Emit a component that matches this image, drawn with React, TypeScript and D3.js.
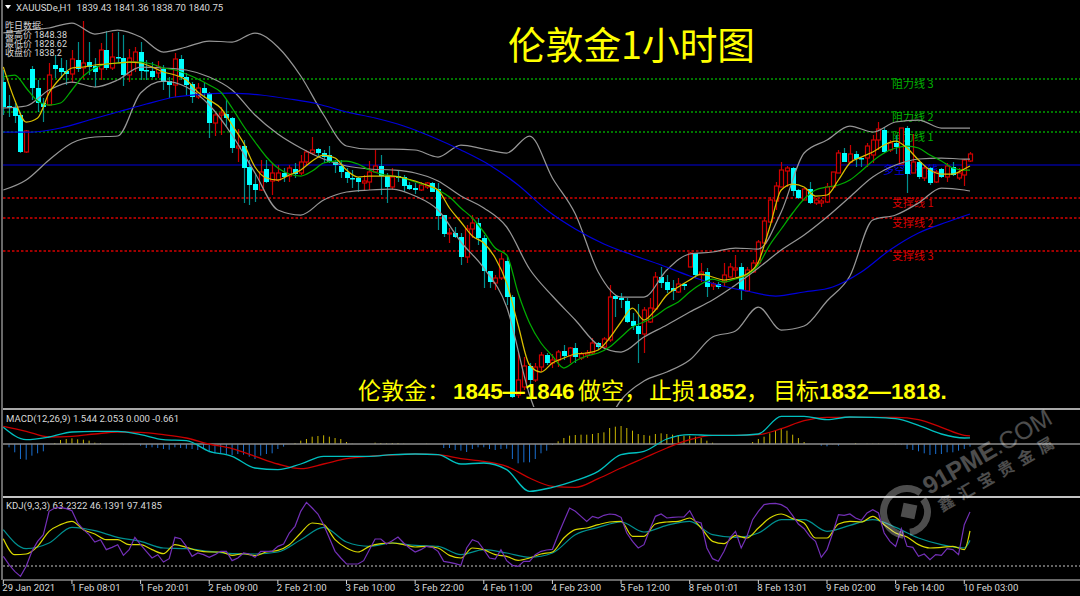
import * as d3 from 'd3'

// Hourly candles, one entry per bar
const opens = [
  1859.5, 1853.5, 1853, 1851.25, 1842, 1862.75, 1858, 1854.25, 1853.75, 1863.75,
  1863, 1862.25, 1861.5, 1865, 1863, 1864.5, 1863.5, 1862.75, 1867.5, 1863,
  1865.75, 1865.5, 1861.25, 1864.5, 1867, 1862.5, 1862.25, 1861.75, 1862.75, 1859.75,
  1858.75, 1865.25, 1860.75, 1859, 1855.75, 1858, 1856.75, 1849.25, 1851.25, 1851.5,
  1850.5, 1843, 1843.5, 1838.25, 1834, 1832.5, 1837.75, 1834.75, 1835, 1836.75,
  1836, 1837.75, 1836.75, 1839.5, 1841.75, 1842.75, 1841.75, 1841.25, 1839.5, 1838.5,
  1837, 1835.5, 1835.5, 1834.25, 1834.5, 1837, 1838.5, 1836, 1833.25, 1836,
  1835.75, 1833.75, 1833, 1832.5, 1833.25, 1834.25, 1832.75, 1826.25, 1821.5, 1821.75,
  1820.75, 1815.75, 1822.75, 1824.25, 1820.5, 1812.25, 1809.25, 1810.5, 1814.75, 1805.75,
  1781.25, 1783.25, 1788.5, 1785, 1788.25, 1791.25, 1789.25, 1790, 1792.25, 1791,
  1793, 1790.5, 1791.25, 1791.75, 1794.25, 1793.25, 1795, 1806, 1805.5, 1804.75,
  1799.75, 1798.5, 1796.5, 1799.5, 1802.75, 1810.75, 1809.5, 1808, 1807, 1809,
  1813.25, 1816.75, 1811.25, 1812, 1808.5, 1809, 1809.5, 1810.75, 1812.5, 1813.25,
  1807.25, 1812, 1814.25, 1819.25, 1824.5, 1829.75, 1833.25, 1837.25, 1838, 1832.5,
  1830, 1832.75, 1829.25, 1829.25, 1829.5, 1833.25, 1836.75, 1841.75, 1839.5, 1841.5,
  1840.5, 1840.5, 1841.25, 1845, 1847.5, 1842.5, 1844.25, 1839, 1848, 1836.75,
  1839.5, 1835.5, 1838, 1834.5, 1837.75, 1835.75, 1838.25, 1835.5, 1836.25, 1839.75,
]
const highs = [
  1862.5, 1856.25, 1854.25, 1852, 1847.5, 1863.5, 1860, 1855.5, 1864.25, 1866.25,
  1865.5, 1865, 1867.5, 1869.5, 1874.75, 1869.5, 1865.5, 1869.25, 1872.25, 1871.75,
  1872, 1871.25, 1867.75, 1868.25, 1869.5, 1865, 1864.5, 1864.75, 1863.75, 1860.75,
  1866.75, 1866.25, 1861.75, 1859.5, 1859.25, 1859.25, 1857, 1852, 1853.25, 1855,
  1850.75, 1847.75, 1845, 1840, 1836.75, 1840, 1840, 1839.25, 1838.75, 1838,
  1838.75, 1839.25, 1841.25, 1842.5, 1845.75, 1843, 1842.5, 1843.5, 1840, 1840,
  1838, 1837.5, 1835.75, 1836.25, 1839.75, 1842.5, 1841.25, 1836.75, 1838, 1837.5,
  1836.25, 1834.5, 1834.25, 1834.5, 1834.5, 1834.5, 1834.25, 1826.25, 1823, 1823.25,
  1821.75, 1823.75, 1826.25, 1825.5, 1821.25, 1812.25, 1811.25, 1816.75, 1815.75, 1806.25,
  1791.75, 1790.75, 1789.25, 1789.25, 1792, 1791.75, 1791.5, 1792.5, 1793.75, 1793.25,
  1794.25, 1792, 1792.5, 1795.5, 1794.5, 1795.75, 1808.75, 1806.25, 1806.75, 1805.5,
  1801.75, 1804, 1803.25, 1805.5, 1812, 1813.25, 1811.25, 1810, 1810.5, 1809.25,
  1817, 1816.75, 1814.25, 1813, 1809.5, 1809.5, 1814.25, 1814.25, 1816.25, 1814.25,
  1813.25, 1815, 1820, 1825.75, 1830.75, 1834.5, 1839.5, 1838.5, 1838.25, 1832.75,
  1833, 1834.5, 1830.5, 1830.25, 1834.25, 1837, 1842.5, 1843, 1843.75, 1842.25,
  1840.75, 1844.25, 1846.25, 1849.5, 1848, 1845, 1846.25, 1848, 1848.5, 1846.5,
  1840, 1838.5, 1838.25, 1837.5, 1838, 1839.25, 1839.5, 1838, 1840.25, 1842,
]
const lows = [
  1851.25, 1850.75, 1849.25, 1841.75, 1841.75, 1855, 1852, 1849.5, 1853.5, 1860.5,
  1860.5, 1858.75, 1859.25, 1862, 1860.25, 1861.25, 1858.25, 1860, 1862.5, 1862.5,
  1864.25, 1858.5, 1859.5, 1862, 1860, 1860, 1860.5, 1860.5, 1857.5, 1855.5,
  1855.75, 1860, 1856.25, 1854.25, 1855.25, 1855.5, 1845.5, 1846, 1846.25, 1848.25,
  1841.75, 1839.5, 1829.25, 1828.75, 1829.5, 1832.25, 1834.25, 1831.25, 1834.5, 1834.5,
  1834.5, 1835.5, 1836.25, 1838.75, 1841.25, 1840.75, 1839.25, 1839.25, 1836.75, 1835.5,
  1834.25, 1833, 1832, 1832.5, 1832.5, 1836.75, 1831.25, 1829.25, 1832.5, 1834.5,
  1832, 1832.5, 1831.5, 1832.25, 1832.75, 1832, 1822.5, 1820.75, 1819.25, 1820.5,
  1813.75, 1814.25, 1820.5, 1818.75, 1808, 1808, 1807.5, 1810, 1803.75, 1780.5,
  1780.5, 1782.5, 1782.5, 1784.5, 1787, 1788.75, 1788, 1788.25, 1790, 1789.25,
  1789.25, 1790, 1790.5, 1791.25, 1792.5, 1792.75, 1794.5, 1800.75, 1803, 1799.25,
  1797.5, 1789.25, 1791.75, 1799.25, 1802.5, 1808, 1806.75, 1805, 1806.75, 1807.5,
  1813.25, 1810.5, 1809.5, 1805.75, 1807.5, 1807.75, 1808.25, 1810.5, 1810.75, 1805,
  1807, 1811.75, 1813.75, 1818.75, 1824.25, 1827.5, 1833.25, 1833.25, 1831, 1830.25,
  1830, 1829, 1828.75, 1828.25, 1829.25, 1833.25, 1836.75, 1839.5, 1839.25, 1838.25,
  1838.25, 1838.25, 1839.25, 1842.5, 1841.75, 1842, 1841.5, 1839, 1831.75, 1836.75,
  1835.25, 1834.75, 1833.75, 1834.25, 1835.5, 1834.5, 1836, 1835, 1833.5, 1839.5,
]
const closes = [
  1853.25, 1853, 1851, 1842, 1847.25, 1858, 1854.25, 1853.25, 1861.25, 1862.75,
  1862, 1861.5, 1865.25, 1862.75, 1864.25, 1863.25, 1862, 1867.5, 1863, 1865.75,
  1865.5, 1861.25, 1865.5, 1867, 1862.25, 1862.25, 1860.75, 1863.25, 1859.5, 1858.75,
  1865.25, 1860.75, 1858.75, 1855.75, 1858, 1856.75, 1849.25, 1851.25, 1851.75, 1850.5,
  1843, 1843.5, 1838, 1833.75, 1832.5, 1837, 1834.5, 1836.75, 1836.75, 1835.75,
  1838, 1836.5, 1839.5, 1842, 1842.5, 1841.75, 1840.75, 1839.5, 1838.75, 1837,
  1835.5, 1835.25, 1834.5, 1834.75, 1837, 1838.5, 1836, 1833.25, 1835.75, 1835.5,
  1833.5, 1832.75, 1832.5, 1833.75, 1834.25, 1832, 1826, 1821.5, 1821.75, 1820.75,
  1815.75, 1822.75, 1824.25, 1820.5, 1812.25, 1809.5, 1810.5, 1815.25, 1805.75, 1780.75,
  1785, 1788.5, 1785, 1788.25, 1791.25, 1789.25, 1790, 1792, 1791, 1793,
  1790.75, 1791.5, 1791.75, 1794.25, 1793.25, 1795.25, 1805.75, 1805.25, 1805, 1799.5,
  1798.5, 1796.5, 1802.5, 1803, 1810.75, 1809.25, 1807.5, 1807.25, 1809, 1808.5,
  1816.75, 1811.25, 1812, 1808.25, 1809, 1808.25, 1811.25, 1813.25, 1813, 1807.5,
  1812.5, 1814.25, 1819.5, 1824.75, 1830, 1833.5, 1837.5, 1838, 1832.25, 1830.5,
  1832.75, 1829.25, 1830, 1829.75, 1833.25, 1837, 1841.75, 1839.5, 1841.5, 1840.25,
  1840.25, 1843.5, 1845, 1847.75, 1842, 1844.25, 1843.25, 1848, 1836.5, 1839.5,
  1835.75, 1838, 1834.25, 1837, 1835.75, 1838.5, 1836.25, 1836.75, 1840, 1841.5,
]

// Moving averages, read every second bar (last value is the final bar)
const fastMa = [
  1863.25, 1855, 1849.5, 1850.5, 1856.75, 1860.5, 1863, 1863.25, 1863.75, 1864,
  1864.25, 1864.5, 1864.25, 1863.25, 1862, 1861.25, 1860, 1857, 1855, 1853,
  1848.75, 1844.25, 1838.25, 1835.5, 1835, 1836.25, 1837.5, 1839.75, 1841.25, 1840.5,
  1837.5, 1835.75, 1836, 1836, 1836, 1835.5, 1834.75, 1833.75, 1832.5, 1828,
  1824.5, 1821, 1819.25, 1815.5, 1809.25, 1798.75, 1788.75, 1787, 1789.25, 1790.5,
  1791.5, 1791.75, 1792.5, 1795.5, 1799.5, 1803, 1800, 1802.5, 1806.25, 1808.25,
  1810, 1811.5, 1810.75, 1810, 1810.5, 1811.5, 1814.5, 1823.25, 1832.5, 1834,
  1833.25, 1831, 1831.25, 1835, 1839.25, 1840.75, 1842, 1843.75, 1844.75, 1843,
  1840, 1837.5, 1836.5, 1836.5, 1837.75, 1838.5,
]
const midMa = [
  1860.75, 1861.25, 1858, 1854.75, 1853.75, 1854.25, 1857.5, 1861, 1863, 1864,
  1864.25, 1864.5, 1864.5, 1864, 1863, 1862.5, 1861.5, 1860.25, 1858.75, 1857,
  1853, 1848.5, 1844.5, 1840.75, 1838, 1836.5, 1836, 1837.25, 1839.25, 1839.75,
  1839.75, 1839, 1837.5, 1836.5, 1836, 1835.5, 1834.5, 1833.75, 1832.5, 1830.75,
  1828, 1825.5, 1822, 1818, 1816.25, 1806.75, 1799.25, 1794.25, 1791, 1788,
  1789.75, 1791, 1791.75, 1793.25, 1795.75, 1798.25, 1799.5, 1801, 1803, 1804.5,
  1807, 1809, 1810.25, 1809.5, 1810.25, 1811.25, 1813.75, 1818.75, 1822.75, 1826.75,
  1830.25, 1832.5, 1833.25, 1833.75, 1835, 1837.25, 1839.75, 1841.75, 1843, 1843.5,
  1843, 1841.25, 1839.75, 1838, 1837.5, 1837.5,
]
// Long moving average, read every fifth bar
const slowMa = [
  1847, 1847, 1848, 1850, 1852, 1854, 1855.75, 1856.5, 1856.75, 1856.25,
  1855.25, 1854, 1852, 1850.5, 1848.5, 1845.75, 1842.5, 1838.75, 1833.75, 1827.5,
  1822.75, 1819, 1816.25, 1813.75, 1811, 1808.75, 1807.25, 1806, 1807, 1808.25,
  1812, 1817.5, 1821.75, 1824.5, 1826.5,
]

// Bollinger bands, read every fourth bar
const bandUpper = [
  1871.75, 1872.5, 1873, 1874.25, 1871.5, 1872.5, 1870.75, 1867, 1868.25, 1869.75,
  1869.5, 1871.75, 1868.25, 1861, 1851.25, 1843.5, 1842.75, 1842.75, 1842.5, 1840.75,
  1843.75, 1842.75, 1841.75, 1846, 1835.5, 1826.5, 1812, 1805.75, 1805.75, 1812.5,
  1816.5, 1817, 1818, 1817.75, 1827, 1841.75, 1845, 1848.5, 1847, 1849.5,
  1850, 1848, 1848, 1848,
]
const bandMiddle = [
  1853, 1853.5, 1857.5, 1859.5, 1858.25, 1860, 1863.25, 1863, 1862.5, 1860.75,
  1857.5, 1851.25, 1846.5, 1843, 1840.25, 1838.5, 1837.75, 1837.5, 1836.75, 1834.75,
  1831, 1828, 1823.25, 1812.75, 1806, 1800, 1793.75, 1792, 1795.75, 1798.75,
  1802, 1805, 1808.75, 1813, 1817.5, 1821.25, 1825.75, 1830.75, 1835.75, 1838.75,
  1840.25, 1840.5, 1840.25, 1840.25,
]
const bandLower = [
  1832.5, 1835, 1840, 1844.25, 1845.75, 1846, 1856.75, 1859.75, 1858.25, 1853.75,
  1846.25, 1836.75, 1827.5, 1826.25, 1830, 1832, 1832.5, 1832.75, 1831, 1827.5,
  1819.5, 1813, 1803.25, 1781.25, 1768.75, 1762.5, 1770, 1780, 1784.75, 1787,
  1790, 1795.75, 1797.25, 1803.25, 1797.5, 1798.5, 1804.75, 1811, 1825, 1826.25,
  1829.25, 1833, 1832.5, 1832.25,
]

const resistanceLevels = [1860.25, 1852, 1847]
const supportLevels = [1830.5, 1825.5, 1817.25]
const pivotLevel = 1838.75

// MACD lines, read every fourth bar
const macdMain = [
  4.17, 1.08, 1.75, 3, 3.17, 3.17, 2.33, 1.08, 0.83, -1.83,
  -3.08, -6, -6.42, -5, -3.08, -3.08, -3.08, -2.67, -2.5, -2.67,
  -5, -4.75, -6.42, -11.83, -10.83, -9.17, -6.83, -2.67, -1.83, 1.25,
  2.33, 2.17, 2.17, 2.5, 6.92, 6.92, 6.08, 6.75, 6.67, 6.33,
  4.67, 2.5, 1.5, 1.54,
]
const macdSignal = [
  4.42, 3.17, 1.75, 1.92, 2.5, 3, 2.92, 2.33, 1.5, 0,
  -1.17, -3.08, -5, -6.17, -5, -3.67, -3.08, -2.75, -2.5, -2.67,
  -3.67, -4.33, -5.58, -8.5, -10.58, -10.83, -8.67, -6, -3.5, -1,
  1.08, 2.17, 2.17, 2.33, 3.83, 5.83, 6.67, 6.67, 6.67, 6.67,
  6.08, 4.17, 2.17, 2.05,
]
const macdHist = [
  0, -0.83, -2.08, -3.75, -3.92, -2.92, -2.33, -1.83, -0.08, 0.25,
  1, 1.25, 1.42, 1.17, 1.08, 0.83, 0.33, 0.25, 0, 0,
  0, -0.08, -0.08, 0, -0.42, -1, -0.83, -1, -1.25, -1.42,
  -0.83, -1, -1.17, -1.25, -1.5, -1.25, -2.08, -2.33, -2.5, -2.5,
  -2.75, -2.5, -2.67, -3.17, -3.75, -2.92, -2.5, -2.33, -1.25, -0.67,
  0, 0.25, 0.83, 1.25, 1.83, 2, 2.17, 1.83, 1.5, 1.25,
  0.5, 0.08, 0, 0, 0, 0.33, 0.25, 0.17, 0.25, 0.25,
  0.08, 0, 0, 0, 0.08, 0, 0, -1, -1, -1.5,
  -1.67, -2, -1.25, -0.83, -0.83, -1.25, -1.5, -1.25, -1.17, -3.75,
  -4.83, -4.58, -4.58, -3.75, -2.33, -1.67, -0.25, 0.67, 1.5, 2.08,
  2.25, 2.33, 2.33, 2.5, 2.75, 2.92, 4, 4.33, 4.5, 4,
  3.33, 2.5, 2.25, 2.08, 2.5, 2.67, 2.5, 2.33, 2.25, 2.08,
  2.08, 1.83, 1.5, 0.83, 0.33, 0, 0, 0, 0, 0,
  0, 0.5, 1.25, 1.83, 2.67, 3.33, 3.92, 3.33, 2.33, 1.5,
  0.5, 0, 0, -0.42, -0.58, -0.08, -0.42, 0, 0, 0.25,
  0, 0.08, 0.08, 0.08, 0, 0, -0.08, -0.17, -1.25, -1.5,
  -1.83, -2.33, -2.75, -2.5, -2.5, -2.08, -2.08, -1.67, -1.25, -0.66,
]

// KDJ: J every bar, K every second bar, D every fourth bar
const kdjJ = [
  17.4, 2.4, -9.6, -18.6, -0.6, 26.4, 44.4, 56.4, 98.4, 104.4,
  105.6, 103.2, 99.6, 77.4, 65.4, 56.4, 43.2, 47.4, 29.4, 33.6,
  38.4, 19.2, 29.4, 51.6, 38.4, 26.4, 14.4, 20.4, 7.2, 13.2,
  51.6, 49.2, 35.4, 17.4, 23.4, 20.4, 15.6, 20.4, 26.4, 26.4,
  9.6, 14.4, 23.4, 21.6, 15.6, 26.4, 26.4, 26.4, 35.4, 39.6,
  59.4, 71.4, 98.4, 114.6, 104.4, 93.6, 74.4, 50.4, 26.4, 14.4,
  3.6, 3.6, 3.6, 9.6, 29.4, 48.6, 48.6, 39.6, 45.6, 52.2,
  41.4, 32.4, 25.2, 29.4, 35.4, 33.6, 26.4, 8.4, 6.6, 4.2,
  1.2, 32.4, 47.4, 43.2, 29.4, 14.4, 12.6, 29.4, 9.6, 1.2,
  -0.6, 8.4, 8.4, 20.4, 26.4, 28.8, 30, 56.4, 80.4, 104.4,
  98.4, 89.4, 80.4, 89.4, 86.4, 91.2, 93.6, 92.4, 87.6, 59.4,
  44.4, 32.4, 38.4, 65.4, 89.4, 93.6, 86.4, 87.6, 88.2, 88.2,
  99.6, 80.4, 77.4, 32.4, 13.2, 8.4, 26.4, 50.4, 62.4, 32.4,
  53.4, 83.4, 98.4, 110.4, 112.2, 112.8, 110.4, 104.4, 90.6, 75.6,
  67.2, 53.4, 44.4, 15.6, 29.4, 59.4, 92.4, 91.2, 93.6, 86.4,
  82.2, 95.4, 101.4, 95.4, 59.4, 44.4, 35.4, 67.2, 35.4, 33.6,
  17.4, 21.6, 11.4, 20.4, 19.2, 31.2, 29.4, 20.4, 74.4, 97.42,
]
const kdjK = [
  49.2, 20.4, 21.6, 35.4, 62.4, 74.4, 80.4, 65.4, 57.6, 47.4,
  47.4, 38.4, 38.4, 29.4, 22.2, 38.4, 33.6, 27.6, 25.2, 25.2,
  19.2, 22.2, 18.6, 25.2, 28.2, 38.4, 59.4, 77.4, 74.4, 47.4,
  32.4, 25.2, 35.4, 40.2, 41.4, 38.4, 34.2, 35.4, 32.4, 19.2,
  14.4, 32.4, 29.4, 20.4, 17.4, 10.2, 14.4, 21.6, 25.2, 50.4,
  65.4, 68.4, 74.4, 79.2, 80.4, 53.4, 53.4, 75.6, 79.2, 80.4,
  86.4, 68.4, 44.4, 40.2, 54.6, 50.4, 68.4, 86.4, 93.6, 85.2,
  77.4, 50.4, 50.4, 75.6, 80.4, 79.2, 89.4, 74.4, 59.4, 52.2,
  38.4, 32.4, 33.6, 35.4, 29.4, 63.23,
]
const kdjD = [
  65.4, 31.2, 41.4, 69.6, 63.6, 51.6, 44.4, 32.4, 31.2, 26.4,
  22.2, 21.6, 25.2, 47.4, 69.6, 43.2, 35.4, 41.4, 37.2, 35.4,
  20.4, 29.4, 23.4, 15.6, 23.4, 56.4, 69.6, 79.2, 61.2, 73.2,
  80.4, 56.4, 51.6, 59.4, 83.4, 83.4, 62.4, 73.2, 83.4, 69.6,
  50.4, 38.4, 32.4, 46.14,
]

const levelNames = ['阻力线 3', '阻力线 2', '阻力线 1', '支撑线 1', '支撑线 2', '支撑线 3']
const tickBars = d3.range(0, 169, 12)
const tickLabels = [
  '29 Jan 2021', '1 Feb 08:01', '1 Feb 20:01', '2 Feb 09:00', '2 Feb 21:00',
  '3 Feb 10:00', '3 Feb 22:00', '4 Feb 11:00', '4 Feb 23:00', '5 Feb 12:00',
  '8 Feb 01:01', '8 Feb 13:01', '9 Feb 02:00', '9 Feb 14:00', '10 Feb 03:00',
]
const yesterdayLines = ['昨日数据:', '最高价 1848.38', '最低价 1828.62', '收盘价 1838.2']

const LAST_BAR = 169
const UI_FONT = 'Roboto, "Noto Sans CJK SC", sans-serif'
const BOLD_FONT = '"Liberation Sans", sans-serif'
const CJK_FONT = '"Noto Sans CJK SC", sans-serif'

const x = d3.scaleLinear().domain([0, LAST_BAR]).range([3.3, 970])
const yPrice = d3.scaleLinear().domain([1780, 1880]).range([400, 0])
const yMacd = d3.scaleLinear().domain([-12.5, 8]).range([494, 412])
const yKdj = d3.scaleLinear().domain([0, 100]).range([566, 510.44])

// bar numbers that go with a series sampled every `step` bars
const barsEvery = (step: number) => {
  const bars = d3.range(0, LAST_BAR, step)
  return bars[bars.length - 1] === LAST_BAR ? bars : [...bars, LAST_BAR]
}

function seriesPath(values: number[], step: number, y: d3.ScaleLinear<number, number>, curve: d3.CurveFactory) {
  const bars = barsEvery(step)
  return d3.line<number>()
    .x((_, i) => x(bars[i]))
    .y(d => y(d))
    .curve(curve)(values) || ''
}

// watermark logo, a spiral made of two arcs
const ringArc = d3.arc()
const outerRingPath = ringArc({ innerRadius: 20, outerRadius: 27, startAngle: 3.3, endAngle: 6.9 }) || ''
const innerRingPath = ringArc({ innerRadius: 17, outerRadius: 24, startAngle: 0.9, endAngle: 3 }) || ''

export default function App() {
  const candles = opens.map((open, i) => ({
    i, open, high: highs[i], low: lows[i], close: closes[i], up: closes[i] >= open,
  }))

  const priceLines = [
    { values: bandUpper, step: 4, color: '#969696' },
    { values: bandMiddle, step: 4, color: '#969696' },
    { values: bandLower, step: 4, color: '#969696' },
    { values: slowMa, step: 5, color: '#0000dc' },
    { values: midMa, step: 2, color: '#00ac00' },
    { values: fastMa, step: 2, color: '#dcc000' },
  ]

  return (
    <>
      <style>{'html,body{margin:0;background:#000}svg{display:block}'}</style>
      <svg width={1080} height={596} viewBox="0 0 1080 596" style={{ background: '#000' }}>
        <defs>
          <clipPath id="price-pane"><rect x={3} y={0} width={1077} height={407} /></clipPath>
        </defs>

        <line x1={2} x2={2} y1={0} y2={580} stroke="#8c8c8c" strokeWidth={1.5} />

        {/* levels */}
        {resistanceLevels.map(v => (
          <line key={v} x1={3} x2={1080} y1={yPrice(v)} y2={yPrice(v)} stroke="#00a000" strokeWidth={1.3} strokeDasharray="2 2" />
        ))}
        {supportLevels.map(v => (
          <line key={v} x1={3} x2={1080} y1={yPrice(v)} y2={yPrice(v)} stroke="#d80000" strokeWidth={1.3} strokeDasharray="2.5 2" />
        ))}
        <line x1={3} x2={1080} y1={yPrice(pivotLevel)} y2={yPrice(pivotLevel)} stroke="#0000dc" strokeWidth={1.1} />
        <g fontFamily={CJK_FONT} fontSize={11}>
          {[...resistanceLevels, ...supportLevels].map((v, i) => (
            <text key={v} x={892} y={yPrice(v) + 9} fill={i < 3 ? '#00b000' : '#d80000'}>{levelNames[i]}</text>
          ))}
          <text x={883} y={yPrice(pivotLevel) + 9} fill="#0000dc">多空平衡线</text>
        </g>

        {/* candles */}
        <g clipPath="url(#price-pane)">
          {candles.map(c => {
            const cx = Math.round(x(c.i)) + 0.5
            const top = yPrice(Math.max(c.open, c.close))
            const bottom = yPrice(Math.min(c.open, c.close))
            return (
              <g key={c.i}>
                <line x1={cx} x2={cx} y1={yPrice(c.high)} y2={yPrice(c.low)} stroke={c.up ? '#c80000' : '#008f8f'} strokeWidth={1.2} />
                {c.up
                  ? <rect x={cx - 2} y={top} width={4} height={Math.max(bottom - top, 1)} fill="#000" stroke="#d00000" strokeWidth={1.2} />
                  : <rect x={cx - 2.5} y={top} width={5} height={Math.max(bottom - top, 1.5)} fill="#00ffff" />}
              </g>
            )
          })}
          {priceLines.map((l, i) => (
            <path
              key={i}
              d={seriesPath(l.values, l.step, yPrice, d3.curveMonotoneX)}
              fill="none"
              stroke={l.color}
              strokeWidth={1.25}
            />
          ))}
        </g>

        {/* header texts */}
        <path d={d3.line()([[5, 5], [11, 5], [8, 9]]) + 'Z'} fill="#fff" />
        <text x={16} y={11} fontFamily={UI_FONT} fontSize={9.6} fill="#d8d8d8" xmlSpace="preserve">XAUUSDe,H1  1839.43 1841.36 1838.70 1840.75</text>
        <g fontFamily={UI_FONT} fontSize={9} fill="#d8d8d8">
          {yesterdayLines.map((t, i) => <text key={t} x={5} y={29 + i * 9}>{t}</text>)}
        </g>
        <text x={508} y={59} fontFamily={CJK_FONT} fontSize={37.7} fill="#ffff00">伦敦金1小时图</text>
        <g fill="#ffff00" fontFamily={CJK_FONT} fontSize={23}>
          <text x={358} y={399}>伦敦金：</text>
          <text x={578} y={399}>做空，</text>
          <text x={649} y={399}>止损</text>
          <text x={746} y={399}>，</text>
          <text x={773} y={399}>目标</text>
        </g>
        <g fill="#ffff00" fontFamily={BOLD_FONT} fontWeight="bold" fontSize={22.3}>
          <text x={453} y={399}>1845—1846</text>
          <text x={697} y={399}>1852</text>
          <text x={819} y={399}>1832—1818.</text>
        </g>

        {/* pane separators */}
        <line x1={3} x2={1080} y1={409} y2={409} stroke="#a8a8a8" strokeWidth={2} />
        <line x1={3} x2={1080} y1={497} y2={497} stroke="#c4c4c4" strokeWidth={2} />

        {/* MACD */}
        <text x={6} y={422} fontFamily={UI_FONT} fontSize={9.6} fill="#d8d8d8">MACD(12,26,9) 1.544 2.053 0.000 -0.661</text>
        {macdHist.map((v, i) => v !== 0 && (
          <line
            key={i}
            x1={x(i)} x2={x(i)}
            y1={yMacd(0)} y2={yMacd(v)}
            stroke={v > 0 ? '#c8b400' : '#1a6fd0'}
          />
        ))}
        <line x1={3} x2={1080} y1={yMacd(0)} y2={yMacd(0)} stroke="#8c8c8c" strokeWidth={1.5} />
        <path d={seriesPath(macdSignal, 4, yMacd, d3.curveMonotoneX)} fill="none" stroke="#c80000" strokeWidth={1.3} />
        <path d={seriesPath(macdMain, 4, yMacd, d3.curveMonotoneX)} fill="none" stroke="#00c0c0" strokeWidth={1.3} />

        {/* KDJ */}
        <text x={6} y={509} fontFamily={UI_FONT} fontSize={9.6} fill="#d8d8d8">KDJ(9,3,3) 63.2322 46.1391 97.4185</text>
        <line x1={3} x2={1080} y1={yKdj(0)} y2={yKdj(0)} stroke="#c8c8c8" strokeDasharray="2 2" />
        <path d={seriesPath(kdjD, 4, yKdj, d3.curveMonotoneX)} fill="none" stroke="#009090" strokeWidth={1.2} />
        <path d={seriesPath(kdjK, 2, yKdj, d3.curveMonotoneX)} fill="none" stroke="#d8d800" strokeWidth={1.2} />
        <path d={seriesPath(kdjJ, 1, yKdj, d3.curveLinear)} fill="none" stroke="#7430b8" strokeWidth={1.2} />

        {/* time axis */}
        <line x1={3} x2={1080} y1={580} y2={580} stroke="#d0d0d0" />
        {tickBars.map((b, i) => (
          <g key={b}>
            <line x1={x(b)} x2={x(b)} y1={580} y2={584} stroke="#d0d0d0" />
            <text x={x(b) - 1} y={591} fontFamily={UI_FONT} fontSize={9.6} fill="#d8d8d8">{tickLabels[i]}</text>
          </g>
        ))}

        {/* watermark */}
        <g fill="#fff" opacity={0.3}>
          <g transform="translate(907,512)">
            <path d={outerRingPath} />
            <path d={innerRingPath} />
            <rect x={-7} y={-7} width={14} height={14} transform="translate(2,-1) rotate(12)" />
          </g>
          <text transform="translate(929,495) rotate(-30)" fontFamily={BOLD_FONT} fontSize={24.5}>
            <tspan fontWeight="bold">91PME</tspan>.COM
          </text>
          <text transform="translate(942,512) rotate(-30)" fontFamily={CJK_FONT} fontWeight="bold" fontSize={16} letterSpacing={7}>鑫汇宝贵金属</text>
        </g>
      </svg>
    </>
  )
}
